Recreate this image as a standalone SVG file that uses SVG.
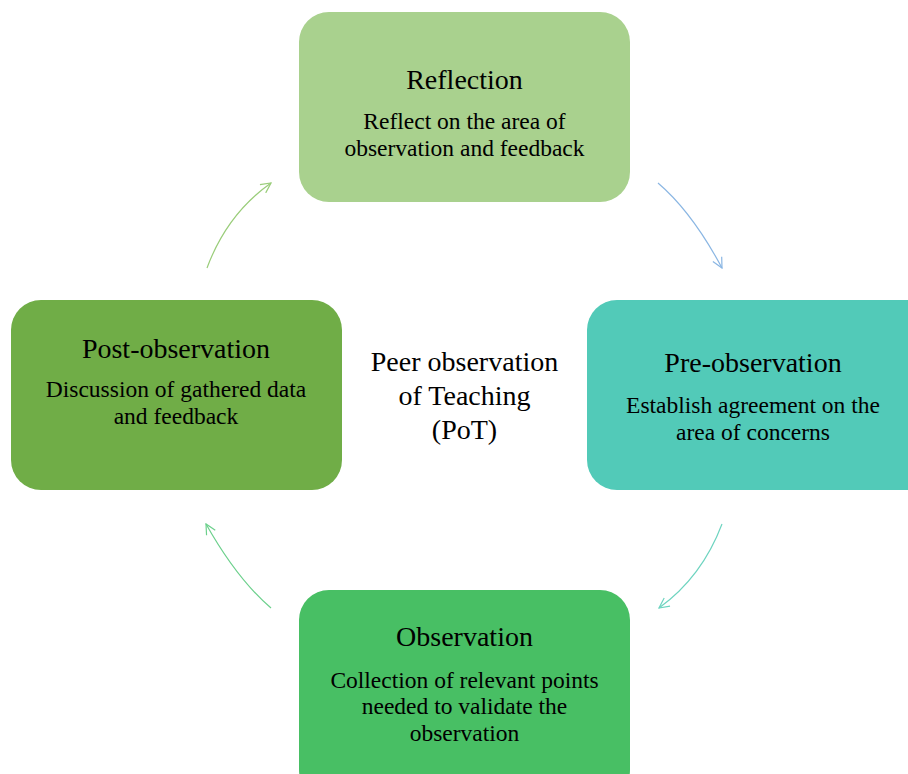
<svg xmlns="http://www.w3.org/2000/svg" width="908" height="774" viewBox="0 0 908 774">
<defs>
<style>
.t{font-family:"Liberation Serif","Times New Roman",serif;fill:#000;text-anchor:middle}
.h{font-size:28px}
.s{font-size:23.5px}
.c{font-size:28px}
.a{fill:none;stroke-width:1.2}
</style>
<marker id="m1" viewBox="0 0 12 12" refX="11" refY="6" markerWidth="12" markerHeight="12" markerUnits="userSpaceOnUse" orient="auto"><path d="M1,1 L11,6 L1,11" fill="none" stroke="#9ACD7A" stroke-width="1.2"/></marker>
<marker id="m2" viewBox="0 0 12 12" refX="11" refY="6" markerWidth="12" markerHeight="12" markerUnits="userSpaceOnUse" orient="auto"><path d="M1,1 L11,6 L1,11" fill="none" stroke="#8AB6E3" stroke-width="1.2"/></marker>
<marker id="m3" viewBox="0 0 12 12" refX="11" refY="6" markerWidth="12" markerHeight="12" markerUnits="userSpaceOnUse" orient="auto"><path d="M1,1 L11,6 L1,11" fill="none" stroke="#6ED4C0" stroke-width="1.2"/></marker>
<marker id="m4" viewBox="0 0 12 12" refX="11" refY="6" markerWidth="12" markerHeight="12" markerUnits="userSpaceOnUse" orient="auto"><path d="M1,1 L11,6 L1,11" fill="none" stroke="#6CD08C" stroke-width="1.2"/></marker>
</defs>
<rect width="908" height="774" fill="#fff"/>
<g id="connectors">
<path class="a" d="M207,268 Q227,214 271,183" stroke="#9ACD7A" marker-end="url(#m1)"/>
<path class="a" d="M658,183 Q692,212 722,268" stroke="#8AB6E3" marker-end="url(#m2)"/>
<path class="a" d="M722,524 Q702,577 659,608" stroke="#6ED4C0" marker-end="url(#m3)"/>
<path class="a" d="M271,608 Q237,579 206,524" stroke="#6CD08C" marker-end="url(#m4)"/>
</g>
<g id="reflection">
<rect x="299" y="12" width="331" height="190" rx="30" fill="#A9D18E"/>
<text class="t h" x="464.5" y="89">Reflection</text>
<text class="t s" x="464.5" y="129">Reflect on the area of</text>
<text class="t s" x="464.5" y="156">observation and feedback</text>
</g>
<g id="pre-observation">
<rect x="587" y="300" width="350" height="190" rx="30" fill="#52CAB8"/>
<text class="t h" x="753" y="372">Pre-observation</text>
<text class="t s" x="753" y="413">Establish agreement on the</text>
<text class="t s" x="753" y="440">area of concerns</text>
</g>
<g id="post-observation">
<rect x="11" y="300" width="331" height="190" rx="30" fill="#70AD47"/>
<text class="t h" x="176" y="358">Post-observation</text>
<text class="t s" x="176" y="397">Discussion of gathered data</text>
<text class="t s" x="176" y="424">and feedback</text>
</g>
<g id="observation">
<rect x="299" y="590" width="331" height="210" rx="30" fill="#48BF64"/>
<text class="t h" x="464.5" y="646">Observation</text>
<text class="t s" x="464.5" y="688">Collection of relevant points</text>
<text class="t s" x="464.5" y="714">needed to validate the</text>
<text class="t s" x="464.5" y="741">observation</text>
</g>
<g id="center">
<text class="t c" x="464.5" y="371">Peer observation</text>
<text class="t c" x="464.5" y="405">of Teaching</text>
<text class="t c" x="464.5" y="439">(PoT)</text>
</g>
</svg>
